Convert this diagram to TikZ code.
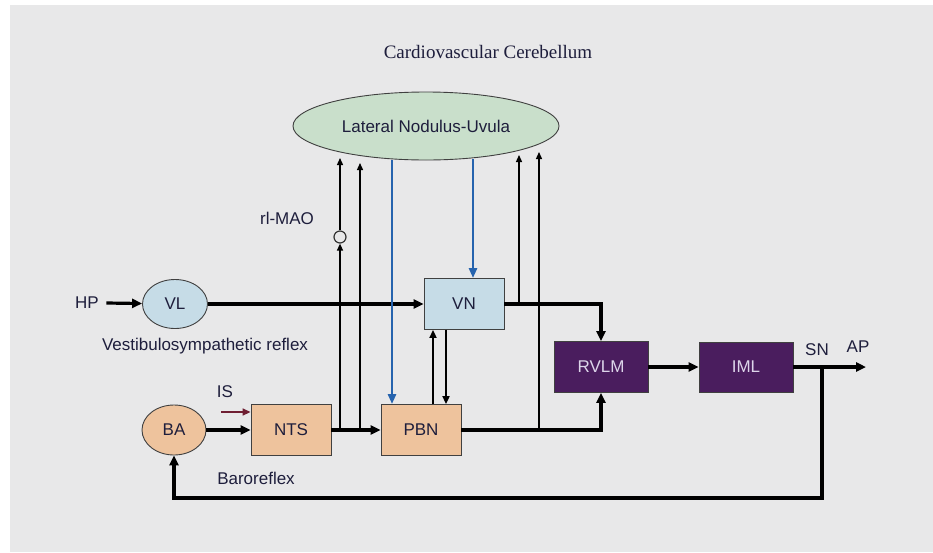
\documentclass[tikz,border=0pt]{standalone}
\usepackage{fontspec}
\setmainfont{Liberation Serif}
\setsansfont{Liberation Sans}
\usetikzlibrary{arrows.meta,shapes.geometric}

\definecolor{paper}{HTML}{E8E8E9}
\definecolor{nodgreen}{HTML}{C9DFCB}
\definecolor{vestblue}{HTML}{C6DCE7}
\definecolor{barpeach}{HTML}{EEC39D}
\definecolor{medpurple}{HTML}{4A1D5E}
\definecolor{fibblue}{HTML}{2663AE}
\definecolor{ink}{HTML}{1E1E3C}
\definecolor{pale}{HTML}{DDD5EA}
\definecolor{isred}{HTML}{6E1E32}

\begin{document}
\begin{tikzpicture}[x=1pt,y=-1pt,
		font=\sffamily\fontsize{17}{19}\selectfont, text=ink,
		box/.style={rectangle, draw=black!75, line width=0.9pt, minimum width=80pt, minimum height=51pt},
		oval/.style={ellipse, draw=black!75, line width=0.9pt, minimum width=65pt, minimum height=49pt},
		flow/.style={line width=3.2pt, -{Triangle[length=10pt,width=9pt]}},
		tap/.style={line width=1.3pt, -{Triangle[length=7pt,width=6pt]}},
		link/.style={line width=2pt, -{Triangle[length=8pt,width=7pt]}},
		fib/.style={line width=2.8pt, draw=fibblue, -{Triangle[length=10pt,width=8pt]}}]
		\useasboundingbox (0,0) rectangle (933,552);
		\fill[white] (0,0) rectangle (933,552);
		\fill[paper] (10,5) rectangle (933,552);

		\node[font=\rmfamily\fontsize{19}{21}\selectfont] (title) at (488,52) {Cardiovascular Cerebellum};
		\node[oval, fill=nodgreen, minimum width=266pt, minimum height=68pt] (lnu) at (426,126) {Lateral Nodulus-Uvula};

		% vestibular side
		\node (hp) at (87,303) {HP};
		\node[oval, fill=vestblue] (vl) at (175,304) {VL};
		\node[box, fill=vestblue] (vn) at (464,304) {VN};
		\node (vsr) at (205,346) {Vestibulosympathetic reflex};

		% baroreceptor side
		\node[oval, fill=barpeach, minimum width=64pt, minimum height=50pt] (ba) at (174,430) {BA};
		\node[box, fill=barpeach] (nts) at (291,430) {NTS};
		\node[box, fill=barpeach] (pbn) at (421,430) {PBN};
		\node (is) at (225,392) {IS};
		\node (baro) at (256,478) {Baroreflex};

		% medulla and spinal cord
		\node[box, fill=medpurple, text=pale, minimum width=94pt] (rvlm) at (601,367) {RVLM};
		\node[box, fill=medpurple, text=pale, minimum width=94pt, minimum height=50pt] (iml) at (746,367) {IML};
		\node (snl) at (817,350) {SN};
		\node (ap) at (858,347) {AP};
		\node (mao) at (287,218) {rl-MAO};
		\node[circle, draw=black!80, line width=1.2pt, fill=paper, inner sep=0pt, minimum size=12pt] (maoc) at (340,237) {};

		\coordinate (isin) at (221,412);
		\coordinate (sn) at (822,367);
		\coordinate (out) at (866,367);
		\coordinate (loop) at (822,498);

		% main pathways
		\draw[flow] ([xshift=4pt]hp.east) -- (vl);
		\draw[flow] (vl) -- (vn);
		\draw[flow] (vn.east) -| (rvlm.north);
		\draw[flow] (ba) -- (nts);
		\draw[flow] (nts) -- (pbn);
		\draw[flow] (pbn.east) -| (rvlm.south);
		\draw[flow] (rvlm) -- (iml);
		\draw[flow] (iml) -- (out);
		\draw[flow] (sn) -- (loop) -| (ba.south);
		\draw[line width=1.5pt, draw=isred, -{Triangle[length=8pt,width=7pt]}] (isin) -- (isin -| nts.west);

		% VN <-> PBN
		\draw[link] ([xshift=12pt]pbn.north) -- ([xshift=-31pt]vn.south);
		\draw[link] ([xshift=-18pt]vn.south) -- ([xshift=25pt]pbn.north);

		% cerebellar output
		\coordinate (o1) at (392,160);
		\coordinate (o2) at (473,159);
		\draw[fib] (o1) -- (o1 |- pbn.north);
		\draw[fib] (o2) -- (o2 |- vn.north);

		% ascending inputs to the cerebellum
		\coordinate (t1) at (340,430);
		\coordinate (t2) at (360,430);
		\coordinate (t3) at (519,304);
		\coordinate (t4) at (539,431);
		\coordinate (e1) at (340,158);
		\coordinate (e2) at (360,163);
		\coordinate (e3) at (519,155);
		\coordinate (e4) at (539,152);
		\draw[tap] (t1) -- (maoc);
		\draw[tap] (maoc) -- (e1);
		\draw[tap] (t2) -- (e2);
		\draw[tap] (t3) -- (e3);
		\draw[tap] (t4) -- (e4);
	\end{tikzpicture}
\end{document}
